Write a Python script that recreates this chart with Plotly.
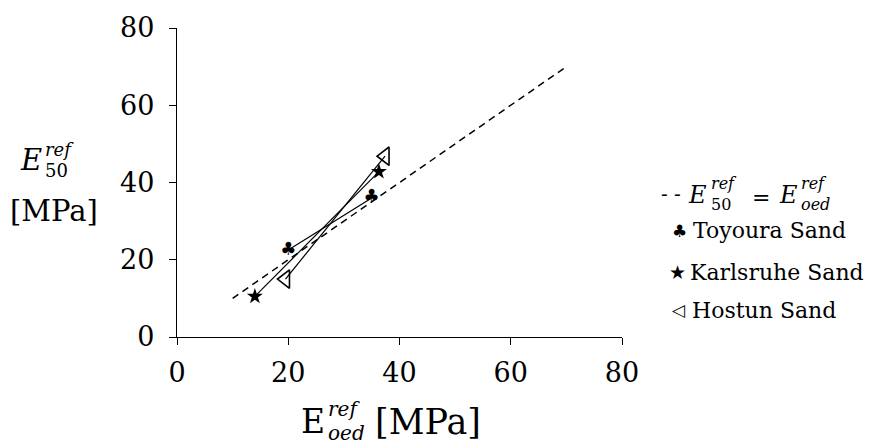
import plotly.graph_objects as go

# ---- data ----
ref_line_x = [10, 70]
ref_line_y = [10, 70]
toyoura_x = [20, 35]
toyoura_y = [22.5, 36]
karlsruhe_x = [14, 36.3]
karlsruhe_y = [10.5, 42.8]
hostun_x = [19.5, 37.4]
hostun_y = [15, 46.8]
tick_vals = [0, 20, 40, 60, 80]
tick_text = ["0", "20", "40", "60", "80"]
legend_labels = ["Toyoura Sand", "Karlsruhe Sand", "Hostun Sand"]

W, H = 873, 447
L, R, T, B = 177, 251, 23, 110
PW, PH = W - L - R, H - T - B
SERIF = "DejaVu Serif"


def px(x):
    return (x - L) / PW


def py(y):
    return (H - B - y) / PH


fig = go.Figure()
fig.add_trace(go.Scatter(x=ref_line_x, y=ref_line_y, mode="lines",
                         line=dict(color="black", width=1.5, dash="7px,5px"),
                         showlegend=False, hoverinfo="skip"))
fig.add_trace(go.Scatter(x=toyoura_x, y=toyoura_y, mode="lines+text",
                         text=["♣", "♣"], textposition="middle center",
                         textfont=dict(size=18, color="black", family="DejaVu Sans"),
                         line=dict(color="black", width=1.2),
                         name=legend_labels[0], showlegend=False))
fig.add_trace(go.Scatter(x=karlsruhe_x, y=karlsruhe_y, mode="lines+markers",
                         marker=dict(symbol="star", size=12, color="black",
                                     line=dict(width=0)),
                         line=dict(color="black", width=1.2),
                         name=legend_labels[1], showlegend=False))
fig.add_trace(go.Scatter(x=hostun_x, y=hostun_y, mode="lines+markers",
                         marker=dict(symbol="triangle-left-open", size=16, color="black",
                                     line=dict(width=1.6, color="black")),
                         line=dict(color="black", width=1.2),
                         name=legend_labels[2], showlegend=False))

ann = []


def add(text, x, y, size, xanchor="center", italic=False, family=SERIF):
    ann.append(dict(text=("<i>%s</i>" % text) if italic else text,
                    x=px(x), y=py(y), xref="paper", yref="paper",
                    xanchor=xanchor, yanchor="middle", showarrow=False,
                    font=dict(family=family, size=size, color="black")))


# y-axis title
add("E", 31, 157, 29, italic=True)
add("ref", 43, 146, 18, "left", italic=True)
add("50", 43, 168, 18, "left")
add("[MPa]", 54, 209, 29)

# x-axis title
add("E", 313, 423, 33)
add("ref", 326, 410, 20, "left", italic=True)
add("oed", 326, 435, 20, "left", italic=True)
add("[MPa]", 373, 423, 35, "left")

# legend
add("- -", 671, 192, 20)
add("E", 697, 193, 24, italic=True)
add("ref", 709, 181, 16, "left", italic=True)
add("50", 709, 202, 16, "left")
add("=", 761, 195, 22)
add("E", 788, 193, 24, italic=True)
add("ref", 799, 181, 16, "left", italic=True)
add("oed", 799, 202, 16, "left", italic=True)
add("♣", 679, 229, 17, family="DejaVu Sans")
add(legend_labels[0], 691, 229, 22, "left")
add("★", 677, 271, 19, family="DejaVu Sans")
add(legend_labels[1], 688, 271, 22, "left")
add("◁", 679, 310, 17, family="DejaVu Sans")
add(legend_labels[2], 690, 310, 22, "left")

axis_common = dict(range=[0, 80], tickvals=tick_vals, ticktext=tick_text,
                   showgrid=False, zeroline=False, showline=True,
                   linecolor="black", linewidth=1.3, ticks="outside",
                   ticklen=7, tickwidth=1.3, tickcolor="black",
                   tickfont=dict(family=SERIF, size=27, color="black"),
                   fixedrange=True)

fig.update_layout(
    width=W, height=H,
    margin=dict(l=L, r=R, t=T, b=B),
    paper_bgcolor="white", plot_bgcolor="white",
    xaxis=dict(axis_common, ticklabelstandoff=4),
    yaxis=dict(axis_common, ticklabelstandoff=9),
    annotations=ann, showlegend=False,
)

fig.write_html("out.html", config={"displayModeBar": False},
               post_script="document.body.style.margin='0';document.body.style.overflow='hidden';")
